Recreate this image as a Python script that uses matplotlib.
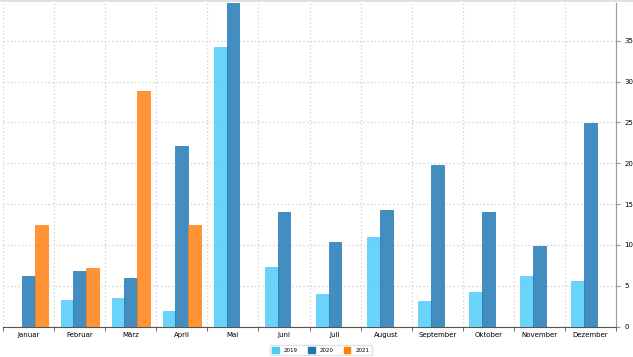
import numpy as np
import matplotlib
matplotlib.use('Agg')
import matplotlib.pyplot as plt
from matplotlib.patches import Patch
from matplotlib.lines import Line2D

months = ['Januar', 'Februar', 'März', 'April', 'Mai', 'Juni', 'Juli',
          'August', 'September', 'Oktober', 'November', 'Dezember']
v2019 = [0, 3.3, 3.5, 1.9, 34.3, 7.3, 4.0, 11.0, 3.2, 4.2, 6.2, 5.6]
v2020 = [6.2, 6.8, 6.0, 22.1, 39.6, 14.0, 10.4, 14.3, 19.8, 14.1, 9.9, 24.9]
v2021 = [12.4, 7.2, 28.9, 12.5, 0, 0, 0, 0, 0, 0, 0, 0]
years = ['2019', '2020', '2021']
colors = ['#4ccbf8', '#1f77b4', '#ff7f0e']
y_ticks = [0, 5, 10, 15, 20, 25, 30, 35]

fig = plt.figure(figsize=(6.33, 3.57), dpi=100)
ax = fig.add_axes([0.005, 0.085, 0.968, 0.907])

# thin bar along the very top of the picture
fig.add_artist(Line2D([0, 1], [0.998, 0.998], color='#d5dbe3', linewidth=1.2,
                      transform=fig.transFigure))

x = np.arange(len(months))
w = 0.25
for i, vals in enumerate([v2019, v2020, v2021]):
    ax.bar(x + (i - 1) * w, vals, w, color=colors[i], alpha=0.84,
           edgecolor=colors[i], linewidth=0.6, zorder=3)

ax.set_xlim(-0.5, len(months) - 0.5)
ax.set_ylim(0, 39.65)
ax.set_xticks(x)
ax.set_xticklabels(months, fontsize=5)
ax.set_xticks(np.arange(-0.5, len(months)), minor=True)
ax.tick_params(axis='x', which='major', length=0, pad=4)
ax.tick_params(axis='x', which='minor', length=3, color='#555555')
ax.yaxis.tick_right()
ax.set_yticks(y_ticks)
ax.tick_params(axis='y', labelsize=5, length=3, color='#999999', pad=3)
ax.grid(True, axis='y', linestyle=(0, (1, 2)), color='#cfcfcf', linewidth=0.9, zorder=0)
ax.grid(True, axis='x', which='minor', linestyle=(0, (1, 2)), color='#cfcfcf', linewidth=0.9, zorder=0)

for s in ['top', 'left']:
    ax.spines[s].set_visible(False)
ax.spines['right'].set_color('#999999')
ax.spines['bottom'].set_color('#555555')

handles = [Patch(color=c, label=y) for c, y in zip(colors, years)]
fig.legend(handles=handles, loc='center', bbox_to_anchor=(0.507, 0.0195), ncol=3,
           fontsize=4, frameon=True, edgecolor='#dddddd', fancybox=False,
           handlelength=1.2, handleheight=1.2, columnspacing=1.8,
           handletextpad=0.9, borderpad=0.4)

fig.savefig('out.png', dpi=100)
